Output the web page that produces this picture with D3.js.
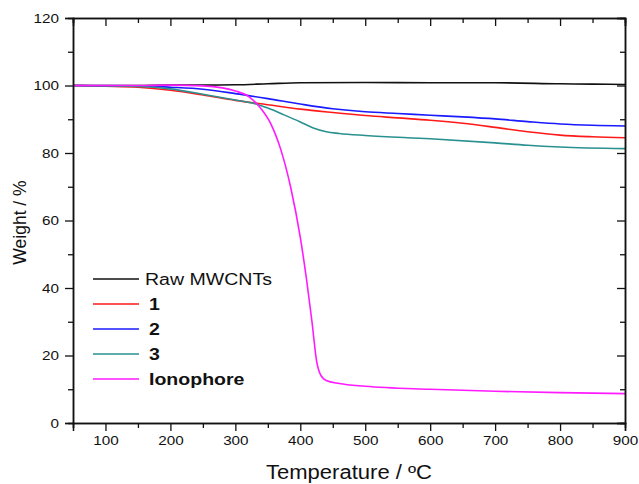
<!DOCTYPE html>
<html>
<head>
<meta charset="utf-8">
<script src="https://cdn.jsdelivr.net/npm/d3@7"></script>
<style>
  body { margin: 0; background: #fff; }
  text { font-family: "Liberation Sans", Arial, sans-serif; fill: #111; }
</style>
</head>
<body>
<svg id="mainsvg" width="639" height="484"></svg>
<script>
// TGA curves (temperature in ºC, weight in %)
const rawT   = [50, 150, 200, 250, 300, 350, 400, 500, 600, 700, 800, 850, 900];
const rawW   = [100, 100, 100.1, 100.1, 100.2, 100.5, 100.8, 100.9, 100.8, 100.8, 100.5, 100.4, 100.3];
const s1T    = [50, 100, 150, 200, 250, 300, 350, 400, 450, 500, 550, 600, 650, 700, 750, 800, 850, 900];
const s1W    = [100, 99.8, 99.5, 98.6, 97.2, 95.6, 94.3, 93, 92, 91.1, 90.4, 89.7, 88.8, 87.6, 86.3, 85.3, 84.8, 84.5];
const s2T    = [50, 150, 200, 250, 300, 350, 400, 450, 500, 550, 600, 650, 700, 750, 800, 850, 900];
const s2W    = [100, 99.9, 99.5, 98.9, 97.6, 96.1, 94.5, 93.1, 92.2, 91.7, 91.2, 90.7, 90.1, 89.3, 88.6, 88.2, 88];
const s3T    = [50, 150, 200, 250, 300, 330, 350, 375, 400, 420, 440, 460, 500, 600, 700, 750, 800, 900];
const s3W    = [100, 99.7, 99, 97.4, 95.7, 94.6, 93.3, 91.3, 89.2, 87.4, 86.3, 85.8, 85.2, 84.2, 83, 82.3, 81.8, 81.3];
const ionoT  = [50, 150, 200, 250, 280, 300, 320, 340, 355, 370, 385, 400, 410, 418, 425, 432, 440, 460, 500, 600, 700, 800, 900];
const ionoW  = [100, 100, 100.1, 99.9, 99.3, 98.4, 96.8, 93, 88.5, 81, 70, 55, 42, 30, 18.5, 14, 12.6, 11.7, 10.9, 10, 9.4, 9, 8.7];

const seriesNames  = ['Raw MWCNTs', '1', '2', '3', 'Ionophore'];
const seriesColors = ['#111111', '#ff1a1a', '#1a1aff', '#2a9090', '#ff1aff'];
const seriesBold   = [false, true, true, true, true];

const xMajor = [100, 200, 300, 400, 500, 600, 700, 800, 900];
const xMinor = [50, 150, 250, 350, 450, 550, 650, 750, 850];
const yMajor = [0, 20, 40, 60, 80, 100, 120];
const yMinor = [10, 30, 50, 70, 90, 110];

const xLabel = 'Temperature / ºC';
const yLabel = 'Weight / %';

const svg = d3.select('#mainsvg');
const margin = {top: 18, right: 14, bottom: 61, left: 73};
const innerWidth = 639 - margin.left - margin.right;
const innerHeight = 484 - margin.top - margin.bottom;
const stretch = 1.13; // text in the picture is a bit wide

// widen a text in place, keeping its x/y and anchor
const widen = sel => sel.each(function() {
  const len = this.getComputedTextLength();
  d3.select(this).attr('textLength', len * stretch).attr('lengthAdjust', 'spacingAndGlyphs');
});

const xScale = d3.scaleLinear().domain([50, 900]).range([0, innerWidth]);
const yScale = d3.scaleLinear().domain([0, 120]).range([innerHeight, 0]);

const g = svg.append('g').attr('transform', `translate(${margin.left},${margin.top})`);

// curves
const toPoints = (ts, ws) => ts.map((t, i) => [t, ws[i]]);
const allSeries = [toPoints(rawT, rawW), toPoints(s1T, s1W), toPoints(s2T, s2W), toPoints(s3T, s3W), toPoints(ionoT, ionoW)];
const line = d3.line().x(d => xScale(d[0])).y(d => yScale(d[1])).curve(d3.curveMonotoneX);

g.selectAll('.curve').data(allSeries).enter().append('path')
  .attr('class', 'curve')
  .attr('d', line)
  .attr('fill', 'none')
  .attr('stroke', (d, i) => seriesColors[i])
  .attr('stroke-width', 1.6);

// axes: ticks all point left / down, like the picture
const styleAxis = sel => {
  sel.selectAll('.domain').attr('stroke', '#111').attr('stroke-width', 1.5);
  sel.selectAll('.tick line').attr('stroke', '#111').attr('stroke-width', 1.3);
};
// tick-only axes: drop the empty label nodes
const noLabels = sel => sel.selectAll('.tick text').remove();

const yAxisG = g.append('g').call(d3.axisLeft(yScale).tickValues(yMajor).tickSize(8).tickPadding(6)).call(styleAxis);
yAxisG.selectAll('.tick text').attr('font-size', 13.5).attr('x', -14).call(widen);
g.append('g').call(d3.axisLeft(yScale).tickValues(yMinor).tickSize(5)).call(styleAxis).call(noLabels);

const xAxisG = g.append('g').attr('transform', `translate(0,${innerHeight})`)
  .call(d3.axisBottom(xScale).tickValues(xMajor).tickSize(8).tickPadding(4)).call(styleAxis);
xAxisG.selectAll('.tick text').attr('font-size', 13.5).call(widen);
g.append('g').attr('transform', `translate(0,${innerHeight})`)
  .call(d3.axisBottom(xScale).tickValues(xMinor).tickSize(5)).call(styleAxis).call(noLabels);

g.append('g').call(d3.axisTop(xScale).tickValues(xMajor).tickSize(-8)).call(styleAxis).call(noLabels);
g.append('g').call(d3.axisTop(xScale).tickValues(xMinor).tickSize(-5)).call(styleAxis).call(noLabels);
g.append('g').attr('transform', `translate(${innerWidth},0)`)
  .call(d3.axisRight(yScale).tickValues(yMajor).tickSize(-8)).call(styleAxis).call(noLabels);
g.append('g').attr('transform', `translate(${innerWidth},0)`)
  .call(d3.axisRight(yScale).tickValues(yMinor).tickSize(-5)).call(styleAxis).call(noLabels);

// axis titles
svg.append('text')
  .attr('x', margin.left + innerWidth / 2)
  .attr('y', 479)
  .attr('text-anchor', 'middle')
  .attr('font-size', 19.5)
  .text(xLabel)
  .call(widen);
svg.append('text')
  .attr('transform', `translate(26,${margin.top + innerHeight / 2 + 2}) rotate(-90)`)
  .attr('text-anchor', 'middle')
  .attr('font-size', 17.5)
  .text(yLabel);

// legend
const legend = svg.selectAll('.legend').data(seriesNames).enter().append('g')
  .attr('class', 'legend');
legend.append('line')
  .attr('x1', 93).attr('x2', 139)
  .attr('y1', (d, i) => 279 + i * 25).attr('y2', (d, i) => 279 + i * 25)
  .attr('stroke', (d, i) => seriesColors[i])
  .attr('stroke-width', 1.6);
legend.append('text')
  .attr('x', (d, i) => seriesBold[i] ? 149 : 145)
  .attr('y', (d, i) => 279 + i * 25)
  .attr('dy', '0.36em')
  .attr('font-size', 17.3)
  .attr('font-weight', (d, i) => seriesBold[i] ? 'bold' : 'normal')
  .text(d => d)
  .call(widen);
</script>
</body>
</html>
